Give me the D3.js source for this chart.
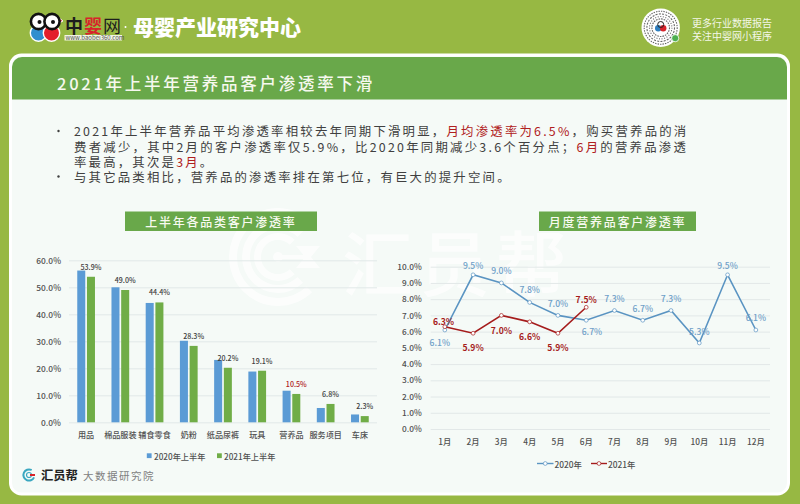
<!DOCTYPE html>
<html>
<head>
<meta charset="utf-8">
<script src="https://cdn.jsdelivr.net/npm/d3@7"></script>
<style>
  html, body { margin: 0; padding: 0; background: #97b843; }
  svg { display: block; }
  text { font-family: "Noto Sans CJK SC", "Noto Sans", sans-serif; }
</style>
</head>
<body>
<svg id="chart" width="800" height="504"></svg>
<script>
// bar chart data
const categories = ['用品', '棉品服装', '辅食零食', '奶粉', '纸品尿裤', '玩具', '营养品', '服务项目', '车床'];
const barSeries = ['2020年上半年', '2021年上半年'];
const values2020H1 = [56.2, 50.0, 44.2, 30.2, 23.1, 18.8, 11.7, 5.3, 2.9];
const values2021H1 = [53.9, 49.0, 44.4, 28.3, 20.2, 19.1, 10.5, 6.8, 2.3];
const barTicks = [0, 10, 20, 30, 40, 50, 60];

// line chart data
const months = ['1月', '2月', '3月', '4月', '5月', '6月', '7月', '8月', '9月', '10月', '11月', '12月'];
const lineSeries = ['2020年', '2021年'];
const monthly2020 = [6.1, 9.5, 9.0, 7.8, 7.0, 6.7, 7.3, 6.7, 7.3, 5.3, 9.5, 6.1];
const monthly2021 = [6.3, 5.9, 7.0, 6.6, 5.9, 7.5];
const lineTicks = [0, 1, 2, 3, 4, 5, 6, 7, 8, 9, 10];

const BLUE = '#5b9bd5', GREEN = '#70ad47', LINE_BLUE = '#5a94c2', RED = '#a51c1c';
const TICK_GREY = '#505050', GRID = '#e2e8e8';

const svg = d3.select('#chart');

// page frame
svg.append('rect').attr('width', 800).attr('height', 504).attr('fill', '#97b843');
svg.append('rect').attr('x', 10.5).attr('y', 55).attr('width', 778).attr('height', 439).attr('rx', 11)
    .attr('fill', '#f5faf7').attr('stroke', '#fff').attr('stroke-width', 3);
svg.append('path').attr('d', 'M12,99.5V67a10,10 0 0 1 10,-10H777a10,10 0 0 1 10,10V99.5Z').attr('fill', '#69a84a');

function label(parent, x, y, str, size, fill, opts = {}) {
    return parent.append('text').attr('x', x).attr('y', y).text(str)
        .attr('font-size', size).attr('fill', fill)
        .attr('text-anchor', opts.anchor || 'start')
        .attr('dominant-baseline', 'central')
        .attr('font-weight', opts.weight || 400)
        .style('letter-spacing', opts.spacing || null);
}

drawTopBar();
drawWatermark();

label(svg, 57, 83, '2021年上半年营养品客户渗透率下滑', 16.5, '#f6f8ee', { weight: 500, spacing: '2.75px' });

// bullet text, each line is a list of [text, highlighted]
const bulletLines = [
    { y: 131, spacing: 2.22, parts: [['2021年上半年营养品平均渗透率相较去年同期下滑明显，', 0], ['月均渗透率为6.5%', 1], ['，购买营养品的消', 0]], bullet: true },
    { y: 146.5, spacing: 2.25, parts: [['费者减少，其中2月的客户渗透率仅5.9%，比2020年同期减少3.6个百分点；', 0], ['6月', 1], ['的营养品渗透', 0]] },
    { y: 161.5, spacing: 2.2, parts: [['率最高，其次是', 0], ['3月', 1], ['。', 0]] },
    { y: 176.5, spacing: 2.2, parts: [['与其它品类相比，营养品的渗透率排在第七位，有巨大的提升空间。', 0]], bullet: true }
];
bulletLines.forEach(line => {
    const t = svg.append('text').attr('x', 74).attr('y', line.y)
        .attr('font-size', 12.4).attr('dominant-baseline', 'central').style('letter-spacing', line.spacing + 'px');
    line.parts.forEach(p => t.append('tspan').text(p[0]).attr('fill', p[1] ? '#b02020' : '#404040'));
    if (line.bullet) svg.append('circle').attr('cx', 58.5).attr('cy', line.y).attr('r', 1.2).attr('fill', '#404040');
});

function titleBox(x, w, str) {
    svg.append('rect').attr('x', x).attr('y', 211.5).attr('width', w).attr('height', 19.5).attr('fill', '#69a84a');
    label(svg, x + w / 2, 221, str, 12, '#f8faf0', { anchor: 'middle', weight: 500, spacing: '1.75px' });
}
titleBox(125, 192, '上半年各品类客户渗透率');
titleBox(539, 157, '月度营养品客户渗透率');

drawBarChart();
drawLineChart();
drawFooter();

function drawBarChart() {
    const x = d3.scaleBand().domain(categories).range([69, 377]);
    const y = d3.scaleLinear().domain([0, 60]).range([422.3, 260.3]);
    const inner = d3.scaleBand().domain(barSeries).range([0, x.bandwidth()]).paddingInner(0.175).paddingOuter(0.85);

    const yAxis = d3.axisLeft(y).tickValues(barTicks).tickFormat(d => d.toFixed(1) + '%').tickSize(-308).tickPadding(8);
    const gy = svg.append('g').attr('transform', 'translate(69,0)').call(yAxis);
    gy.select('.domain').remove();
    gy.selectAll('line').attr('stroke', GRID);
    gy.selectAll('text').attr('font-size', 8.4).attr('font-weight', 500).attr('fill', TICK_GREY);

    const xAxis = d3.axisBottom(x).tickSize(0).tickPadding(9.5);
    const gx = svg.append('g').attr('transform', 'translate(0,422.3)').call(xAxis);
    gx.select('.domain').remove();
    gx.selectAll('text').attr('font-size', 8.1).attr('font-weight', 500).attr('fill', TICK_GREY);

    [values2020H1, values2021H1].forEach((vals, s) => {
        svg.append('g').selectAll('rect').data(vals).join('rect')
            .attr('x', (d, i) => x(categories[i]) + inner(barSeries[s]))
            .attr('y', d => y(d))
            .attr('width', inner.bandwidth())
            .attr('height', d => y(0) - y(d))
            .attr('fill', s ? GREEN : BLUE);
    });

    svg.append('g').selectAll('text').data(values2021H1).join('text')
        .attr('x', (d, i) => x(categories[i]) + inner(barSeries[1]) + inner.bandwidth() / 2)
        .attr('y', d => y(d) - 10)
        .attr('text-anchor', 'middle').attr('dominant-baseline', 'central')
        .attr('font-size', 7.1).attr('font-weight', 500)
        .attr('fill', (d, i) => categories[i] === '营养品' ? '#b02020' : '#404040')
        .text(d => d.toFixed(1) + '%');

    // legend
    [[146.8, 154], [217, 224]].forEach((p, i) => {
        svg.append('rect').attr('x', p[0]).attr('y', 453.3).attr('width', 4.8).attr('height', 4.8).attr('fill', i ? GREEN : BLUE);
        label(svg, p[1], 455.7, barSeries[i], 8.2, TICK_GREY, { weight: 500 });
    });
}

function drawLineChart() {
    const x = d3.scaleBand().domain(months).range([430.7, 770]);
    const y = d3.scaleLinear().domain([0, 10]).range([429, 266.7]);
    const cx = m => x(m) + x.bandwidth() / 2;

    const yAxis = d3.axisLeft(y).tickValues(lineTicks).tickFormat(d => d.toFixed(1) + '%').tickSize(-339.3).tickPadding(9);
    const gy = svg.append('g').attr('transform', 'translate(430.7,0)').call(yAxis);
    gy.select('.domain').remove();
    gy.selectAll('line').attr('stroke', GRID);
    gy.selectAll('text').attr('font-size', 8.3).attr('font-weight', 500).attr('fill', TICK_GREY);

    const gx = svg.append('g').attr('transform', 'translate(0,429)').call(d3.axisBottom(x).tickSize(0).tickPadding(10));
    gx.select('.domain').remove();
    gx.selectAll('text').attr('font-size', 8.3).attr('font-weight', 500).attr('fill', TICK_GREY);

    const line = d3.line().x((d, i) => cx(months[i])).y(d => y(d));

    // label nudges around each point, 2020 then 2021
    const nudges = [
        [[-5, 12], [0, -10], [0, -12.7], [0, -13], [0, -12.7], [5.7, 10.7], [0, -12.7], [0, -12.3], [0, -13], [0, -12.3], [0, -10.3], [0, -12.7]],
        [[-1.3, -5.7], [0, 14], [0, 14.3], [0, 13.7], [0, 14], [0, -8.3]]
    ];

    [monthly2020, monthly2021].forEach((vals, s) => {
        const color = s ? RED : LINE_BLUE;
        svg.append('path').datum(vals).attr('d', line)
            .attr('fill', 'none').attr('stroke', color).attr('stroke-width', 1.6);
        svg.append('g').selectAll('circle').data(vals).join('circle')
            .attr('cx', (d, i) => cx(months[i])).attr('cy', d => y(d)).attr('r', 1.9)
            .attr('fill', '#fff').attr('stroke', color).attr('stroke-width', 0.7);
    });
    [monthly2020, monthly2021].forEach((vals, s) => {
        svg.append('g').selectAll('text').data(vals).join('text')
            .attr('x', (d, i) => cx(months[i]) + nudges[s][i][0])
            .attr('y', (d, i) => y(d) + nudges[s][i][1])
            .attr('text-anchor', 'middle').attr('dominant-baseline', 'central')
            .attr('font-size', 8.6).attr('font-weight', s ? 700 : 500)
            .attr('fill', s ? RED : '#6fa0c8')
            .text(d => d.toFixed(1) + '%');
    });

    // legend
    [[537, 553.5, 554.5], [591, 607, 608]].forEach((p, i) => {
        const color = i ? RED : LINE_BLUE;
        svg.append('line').attr('x1', p[0]).attr('x2', p[1]).attr('y1', 463.5).attr('y2', 463.5)
            .attr('stroke', color).attr('stroke-width', 1.4);
        svg.append('circle').attr('cx', (p[0] + p[1]) / 2).attr('cy', 463.5).attr('r', 1.9)
            .attr('fill', '#fff').attr('stroke', color).attr('stroke-width', 0.7);
        label(svg, p[2], 463.7, lineSeries[i], 8.4, TICK_GREY, { weight: 500 });
    });
}

function drawTopBar() {
    const logo = svg.append('g');
    logo.append('path').attr('d', 'M58,17L63,21L57,24Z').attr('fill', '#c9232c').attr('stroke', '#fff').attr('stroke-width', 1);
    logo.append('circle').attr('cx', 38.5).attr('cy', 33).attr('r', 8.2).attr('fill', '#2f8fcf').attr('stroke', '#fff').attr('stroke-width', 1.4);
    logo.append('circle').attr('cx', 51.5).attr('cy', 33).attr('r', 8.2).attr('fill', '#e3202c').attr('stroke', '#fff').attr('stroke-width', 1.4);
    [38.5, 52].forEach(cx => {
        logo.append('circle').attr('cx', cx).attr('cy', 21.5).attr('r', 7.6).attr('fill', '#fff').attr('stroke', '#111').attr('stroke-width', 2.6);
        logo.append('circle').attr('cx', cx + 1).attr('cy', 22).attr('r', 2).attr('fill', '#111');
    });
    label(svg, 65, 24.5, '中', 18, '#1d1d1d', { weight: 700 });
    label(svg, 84, 24.5, '婴', 18, '#d8232a', { weight: 700 });
    label(svg, 103, 24.5, '网', 18, '#1d1d1d', { weight: 400 });
    svg.append('rect').attr('x', 64.5).attr('y', 35).attr('width', 57.5).attr('height', 5.5).attr('fill', '#f2f5e4');
    label(svg, 65.5, 37.7, 'www.baobei360.com', 6, '#555');
    svg.append('circle').attr('cx', 125.5).attr('cy', 27).attr('r', 1).attr('fill', '#fff');
    label(svg, 133, 26, '母婴产业研究中心', 21, '#fff', { weight: 900 });

    // round wechat code
    const qr = svg.append('g').attr('transform', 'translate(660.7,27.7)');
    qr.append('circle').attr('r', 19.2).attr('fill', '#fff');
    [[16.5, '1.4 1.1'], [13.8, '2 1.3'], [11.2, '1 1.6'], [8.8, '1.6 1']].forEach(r => {
        qr.append('circle').attr('r', r[0]).attr('fill', 'none').attr('stroke', '#666')
            .attr('stroke-width', 1.1).attr('stroke-dasharray', r[1]);
    });
    qr.append('circle').attr('r', 7).attr('fill', '#fff');
    qr.append('circle').attr('cx', -2.5).attr('cy', 0.5).attr('r', 3.2).attr('fill', '#2f7fbf');
    qr.append('circle').attr('cx', 2.5).attr('cy', 0.5).attr('r', 3.2).attr('fill', '#d8232a');
    qr.append('circle').attr('cx', 0).attr('cy', -3.2).attr('r', 3).attr('fill', 'none').attr('stroke', '#222').attr('stroke-width', 1);
    qr.append('circle').attr('cx', 14.5).attr('cy', 10.5).attr('r', 3.6).attr('fill', '#4caf50').attr('stroke', '#fff').attr('stroke-width', 0.8);

    label(svg, 692, 22, '更多行业数据报告', 10, '#f4f7e8');
    label(svg, 692, 35, '关注中婴网小程序', 10, '#f4f7e8');
}

function drawWatermark() {
    const wm = svg.append('g').attr('opacity', 0.7);
    const arc = d3.arc();
    const open = 0.8;
    [[41, 49], [28, 36], [17, 24]].forEach(r => {
        wm.append('path').attr('transform', 'translate(278,257)')
            .attr('d', arc({ innerRadius: r[0], outerRadius: r[1], startAngle: Math.PI / 2 + open, endAngle: 2.5 * Math.PI - open, cornerRadius: 2 }))
            .attr('fill', '#fff');
    });
    wm.append('circle').attr('cx', 278).attr('cy', 257).attr('r', 5).attr('fill', '#fff');
    wm.append('path').attr('d', 'M278,257H308').attr('stroke', '#fff').attr('stroke-width', 4);
    wm.append('path').attr('d', 'M296,246H309L320,246L311,257L320,268H309L296,268L305,257Z').attr('fill', '#fff');
    label(svg, 342, 259, '汇员帮', 71, '#fff', { weight: 500 }).attr('opacity', 0.7).style('letter-spacing', '6px');
}

function drawFooter() {
    const g = svg.append('g').attr('transform', 'translate(29,475)');
    g.append('circle').attr('r', 5.6).attr('fill', 'none').attr('stroke', '#3aa7c0').attr('stroke-width', 2)
        .attr('stroke-dasharray', '26 9').attr('transform', 'rotate(25)');
    g.append('circle').attr('r', 2.5).attr('fill', 'none').attr('stroke', '#3aa7c0').attr('stroke-width', 1.2);
    g.append('path').attr('d', 'M1,0H6').attr('stroke', '#d8232a').attr('stroke-width', 2);
    label(svg, 41, 475, '汇员帮', 12.3, '#222', { weight: 700 });
    label(svg, 83, 475.5, '大数据研究院', 10.5, '#808080', { spacing: '1.5px' });
}
</script>
</body>
</html>
